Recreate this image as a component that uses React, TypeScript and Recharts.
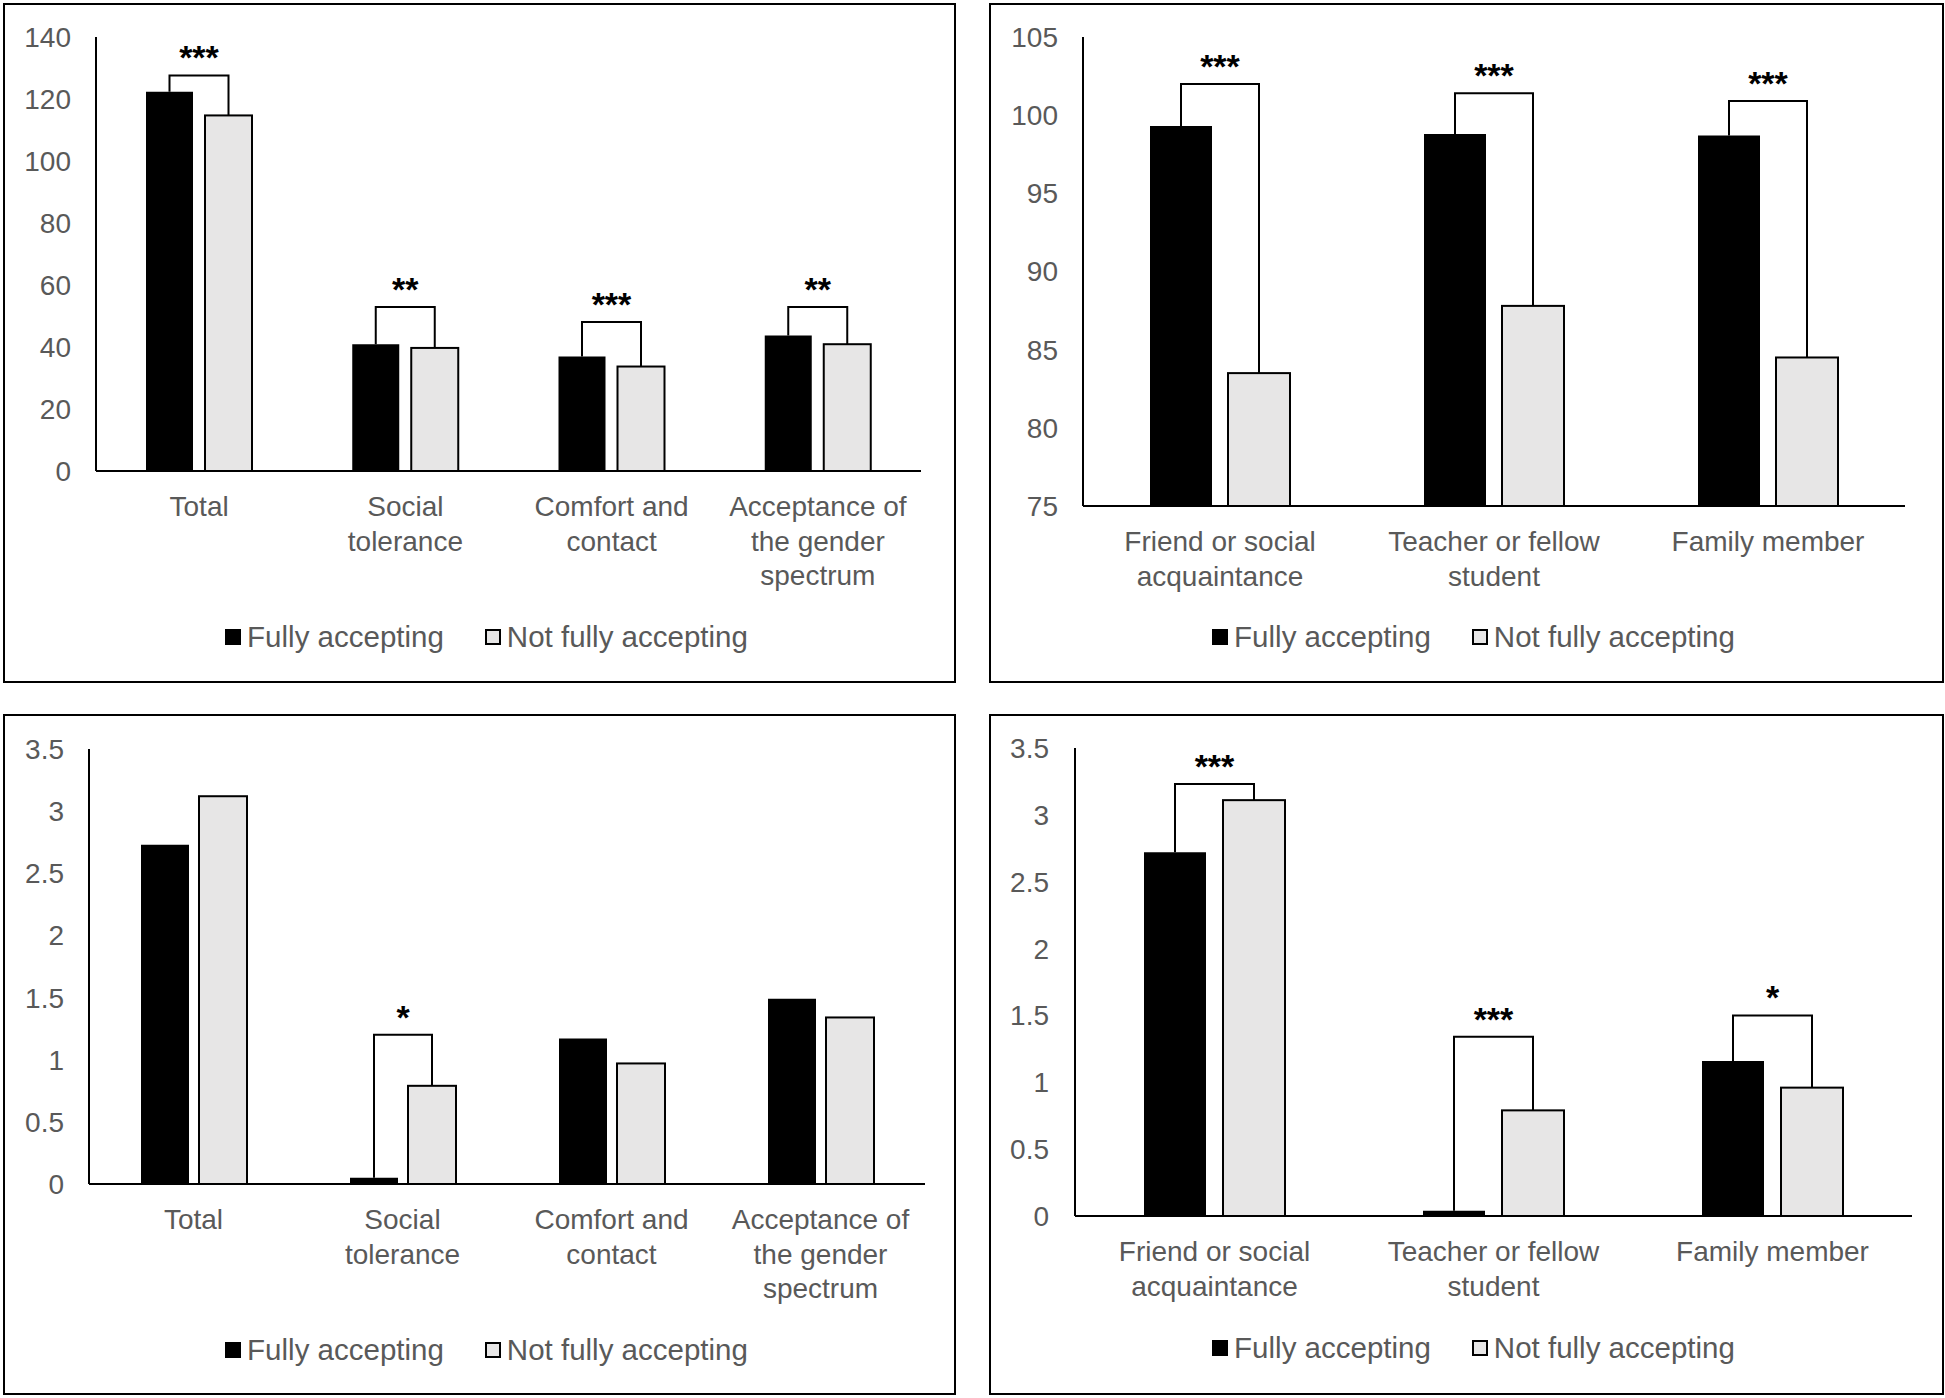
import React from 'react';
import { BarChart, Bar, XAxis, YAxis, Legend } from 'recharts';

const FONT = '"Liberation Sans Narrow", "Liberation Sans", Arial, sans-serif';
const TEXT = '#595959';
const LIGHT = '#e7e6e6';

// top-left: scale scores by subscale
const subscaleLabels = ['Total', 'Social\ntolerance', 'Comfort and\ncontact', 'Acceptance of\nthe gender\nspectrum'];
const scoreFully = [122.3, 40.9, 36.9, 43.7];
const scoreNotFully = [114.7, 39.7, 33.7, 40.9];
const scoreBracket = [127.6, 52.9, 48.1, 52.9];
const scoreStars = ['***', '**', '***', '**'];
const scoreTicks = [0, 20, 40, 60, 80, 100, 120, 140];

// top-right: scores by relationship
const relationLabels = ['Friend or social\nacquaintance', 'Teacher or fellow\nstudent', 'Family member'];
const relFully = [99.3, 98.8, 98.7];
const relNotFully = [83.5, 87.8, 84.5];
const relBracket = [102.0, 101.4, 100.9];
const relStars = ['***', '***', '***'];
const relTicks = [75, 80, 85, 90, 95, 100, 105];

// bottom-left: small scale by subscale
const subFully = [2.73, 0.05, 1.17, 1.49];
const subNotFully = [3.12, 0.79, 0.97, 1.34];
const subBracket = [null, 1.2, null, null];
const subStars = ['', '*', '', ''];
const smallTicks = [0, 0.5, 1, 1.5, 2, 2.5, 3, 3.5];

// bottom-right: small scale by relationship
const rel2Fully = [2.72, 0.04, 1.16];
const rel2NotFully = [3.11, 0.79, 0.96];
const rel2Bracket = [3.23, 1.34, 1.5];
const rel2Stars = ['***', '***', '*'];

type Row = { name: string; fully: number; notFully: number; bracket: number | null; stars: string };

const buildRows = (names: string[], a: number[], b: number[], br: (number | null)[], st: string[]): Row[] =>
  names.map((name, i) => ({ name, fully: a[i], notFully: b[i], bracket: br[i], stars: st[i] }));

const CategoryTick = ({ x, y, payload }: any) => {
  const lines = String(payload.value).split('\n');
  return (
    <text x={x} y={y} textAnchor="middle" fill={TEXT} fontSize={28} fontFamily={FONT}>
      {lines.map((l, i) => (
        <tspan key={i} x={x} dy={i === 0 ? '0.71em' : 34.7}>
          {l}
        </tspan>
      ))}
    </text>
  );
};

// gray bar + significance bracket drawn from the black bar centre to the gray one
const makeShape = (domainMin: number, gap: number) => (props: any) => {
  const { x, y, width, height, payload } = props;
  const bottom = y + height;
  const k = height / (payload.notFully - domainMin);
  const grayCx = x + width / 2;
  const blackCx = x - gap - width / 2;
  const blackTop = bottom - (payload.fully - domainMin) * k;
  return (
    <g>
      <rect x={x} y={y} width={width} height={height} fill={LIGHT} stroke="#000" strokeWidth={2} />
      {payload.bracket != null && (
        <g>
          <path
            d={`M${blackCx},${blackTop} V${bottom - (payload.bracket - domainMin) * k} H${grayCx} V${y}`}
            fill="none"
            stroke="#000"
            strokeWidth={2}
          />
          <text
            x={(blackCx + grayCx) / 2}
            y={bottom - (payload.bracket - domainMin) * k - 6}
            textAnchor="middle"
            fontSize={34}
            fontWeight="bold"
            fontFamily={FONT}
            fill="#000"
          >
            {payload.stars}
          </text>
        </g>
      )}
    </g>
  );
};

const renderLegend = (props: any) => (
  <div
    style={{
      display: 'flex',
      justifyContent: 'center',
      alignItems: 'center',
      height: 40,
      fontFamily: FONT,
      fontSize: 29.5,
      color: TEXT,
    }}
  >
    {props.payload.map((entry: any, i: number) => (
      <div key={i} style={{ display: 'flex', alignItems: 'center', marginLeft: i === 0 ? 0 : 41 }}>
        <span
          style={{
            display: 'inline-block',
            width: 16,
            height: 16,
            boxSizing: 'border-box',
            background: i === 0 ? '#000' : LIGHT,
            border: '2px solid #000',
            marginRight: 6,
          }}
        />
        <span>{entry.value}</span>
      </div>
    ))}
  </div>
);

interface PanelProps {
  left: number;
  top: number;
  w: number;
  h: number;
  rows: Row[];
  domain: [number, number];
  ticks: number[];
  yWidth: number;
  tickMargin: number;
  mTop: number;
  mRight: number;
  mBottom: number;
  xHeight: number;
  barSize: number;
  barGap: number;
}

function Panel(p: PanelProps) {
  const cw = p.w - 4;
  const ch = p.h - 4;
  return (
    <div
      style={{
        position: 'absolute',
        left: p.left,
        top: p.top,
        width: p.w,
        height: p.h,
        boxSizing: 'border-box',
        border: '2px solid #000',
        background: '#fff',
      }}
    >
      <BarChart
        width={cw}
        height={ch}
        data={p.rows}
        margin={{ top: p.mTop, right: p.mRight, bottom: p.mBottom, left: 0 }}
        barSize={p.barSize}
        barGap={p.barGap}
      >
        <XAxis
          dataKey="name"
          height={p.xHeight}
          tickSize={0}
          tickMargin={25}
          tickLine={false}
          axisLine={{ stroke: '#000', strokeWidth: 2 }}
          tick={<CategoryTick />}
          interval={0}
        />
        <YAxis
          domain={p.domain}
          ticks={p.ticks}
          width={p.yWidth}
          tickSize={0}
          tickMargin={p.tickMargin}
          tickLine={false}
          axisLine={{ stroke: '#000', strokeWidth: 2 }}
          tick={{ fill: TEXT, fontSize: 28, fontFamily: FONT }}
          allowDataOverflow
        />
        <Legend
          verticalAlign="bottom"
          height={40}
          content={renderLegend}
          wrapperStyle={{ left: 7, width: cw, bottom: p.mBottom }}
        />
        <Bar dataKey="fully" name="Fully accepting" fill="#000" isAnimationActive={false} />
        <Bar
          dataKey="notFully"
          name="Not fully accepting"
          fill={LIGHT}
          isAnimationActive={false}
          shape={makeShape(p.domain[0], p.barGap)}
        />
      </BarChart>
    </div>
  );
}

export default function App() {
  return (
    <div style={{ position: 'absolute', left: 0, top: 0, width: 1945, height: 1398, background: '#fff' }}>
      <Panel
        left={3} top={3} w={953} h={680}
        rows={buildRows(subscaleLabels, scoreFully, scoreNotFully, scoreBracket, scoreStars)}
        domain={[0, 140]} ticks={scoreTicks}
        yWidth={91} tickMargin={25}
        mTop={32} mRight={33} mBottom={24} xHeight={146}
        barSize={47} barGap={12}
      />
      <Panel
        left={989} top={3} w={955} h={680}
        rows={buildRows(relationLabels, relFully, relNotFully, relBracket, relStars)}
        domain={[75, 105]} ticks={relTicks}
        yWidth={92} tickMargin={25}
        mTop={32} mRight={37} mBottom={24} xHeight={111}
        barSize={62} barGap={16}
      />
      <Panel
        left={3} top={714} w={953} h={681}
        rows={buildRows(subscaleLabels, subFully, subNotFully, subBracket, subStars)}
        domain={[0, 3.5]} ticks={smallTicks}
        yWidth={84} tickMargin={25}
        mTop={33} mRight={29} mBottom={23} xHeight={146}
        barSize={48} barGap={10}
      />
      <Panel
        left={989} top={714} w={955} h={681}
        rows={buildRows(relationLabels, rel2Fully, rel2NotFully, rel2Bracket, rel2Stars)}
        domain={[0, 3.5]} ticks={smallTicks}
        yWidth={84} tickMargin={26}
        mTop={32} mRight={30} mBottom={25} xHeight={112}
        barSize={62} barGap={17}
      />
    </div>
  );
}
